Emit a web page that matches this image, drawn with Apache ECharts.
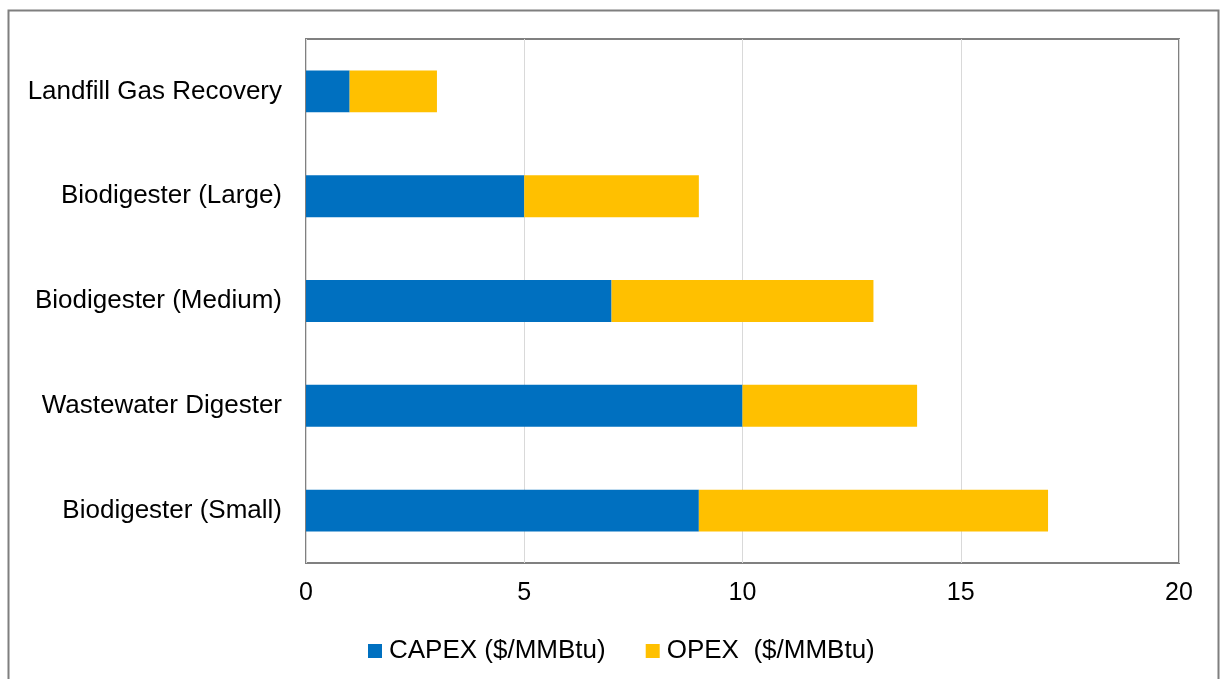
<!DOCTYPE html>
<html>
<head>
<meta charset="UTF-8">
<script src="https://cdn.jsdelivr.net/npm/echarts@6/dist/echarts.min.js"></script>
<style>
  html, body { margin: 0; padding: 0; background: #fff; }
  #chart { width: 1220px; height: 679px; }
</style>
</head>
<body>
<div id="chart"></div>
<script type="text/javascript">
// Categories listed bottom to top (category axis starts at the bottom).
const categories = ['Biodigester (Small)', 'Wastewater Digester', 'Biodigester (Medium)', 'Biodigester (Large)', 'Landfill Gas Recovery'];
const capex = [9, 10, 7, 5, 1];
const opex = [8, 4, 6, 4, 2];
const seriesNames = ['CAPEX ($/MMBtu)', 'OPEX  ($/MMBtu)'];

const chart = echarts.init(document.getElementById('chart'));

const font = 'Liberation Sans, Arial, sans-serif';

const option = {
    backgroundColor: '#ffffff',
    animation: false,
    graphic: [
        {
            type: 'rect',
            shape: { x: 8.5, y: 10.5, width: 1210, height: 700 },
            style: { fill: 'none', stroke: '#7f7f7f', lineWidth: 2 },
            silent: true
        }
    ],
    grid: {
        left: 306,
        right: 41,
        top: 39,
        bottom: 116,
        show: true,
        borderColor: '#808080',
        borderWidth: 2,
        containLabel: false
    },
    xAxis: {
        type: 'value',
        min: 0,
        max: 20,
        interval: 5,
        axisLine: { show: false },
        axisTick: { show: false },
        axisLabel: {
            color: '#000',
            fontFamily: font,
            fontSize: 25,
            margin: 18
        },
        splitLine: {
            show: true,
            lineStyle: { color: '#d9d9d9', width: 1 }
        }
    },
    yAxis: {
        type: 'category',
        data: categories,
        axisLine: { show: false },
        axisTick: { show: false },
        axisLabel: {
            color: '#000',
            fontFamily: font,
            fontSize: 26,
            margin: 24,
            padding: [4, 0, 0, 0]
        },
        splitLine: { show: false }
    },
    legend: {
        bottom: 10,
        left: 363,
        itemWidth: 14,
        itemHeight: 14,
        itemGap: 40,
        icon: 'rect',
        textStyle: { color: '#000', fontFamily: font, fontSize: 26, padding: [0, 0, 0, 2] },
        data: seriesNames
    },
    series: [
        {
            name: seriesNames[0],
            type: 'bar',
            stack: 'cost',
            barWidth: '40%',
            itemStyle: { color: '#0070c0' },
            data: capex
        },
        {
            name: seriesNames[1],
            type: 'bar',
            stack: 'cost',
            barWidth: '40%',
            itemStyle: { color: '#ffc000' },
            data: opex
        }
    ]
};

chart.setOption(option);
</script>
</body>
</html>
